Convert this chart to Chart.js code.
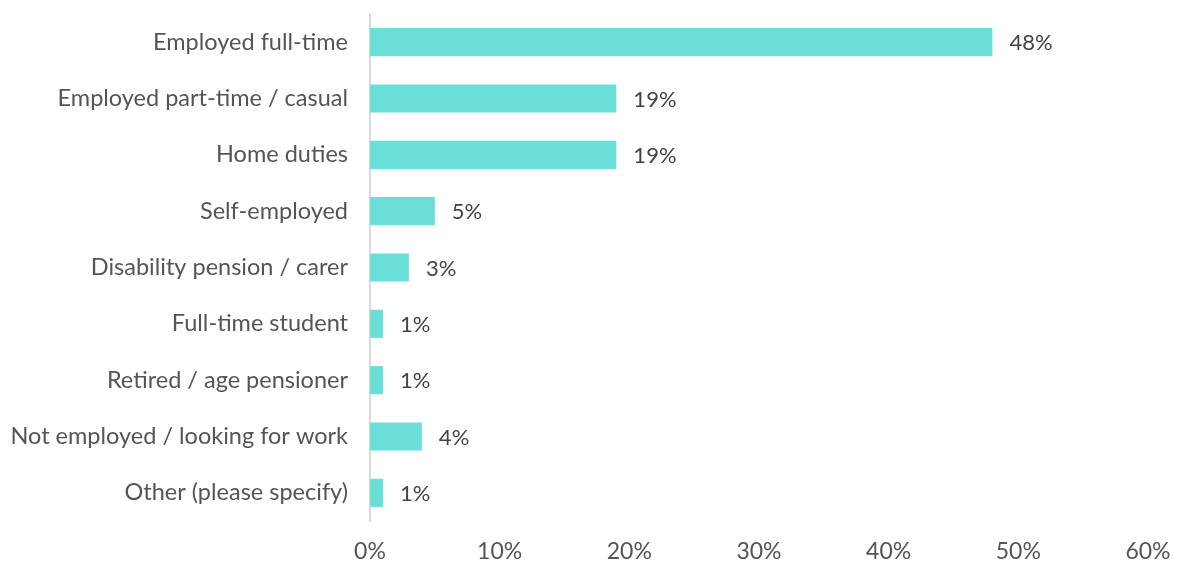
<!DOCTYPE html>
<html><head><meta charset="utf-8">
<script src="https://cdn.jsdelivr.net/npm/chart.js@4/dist/chart.umd.min.js"></script>
<style>
  html, body { margin: 0; padding: 0; background: #fff; }
  #wrap { width: 1180px; height: 563px; position: relative; }
</style>
</head><body>
<div id="wrap"><canvas id="chart"></canvas></div>
<script>
// Employment status of respondents (% of total)
const categories = [
  'Employed full-time',
  'Employed part-time / casual',
  'Home duties',
  'Self-employed',
  'Disability pension / carer',
  'Full-time student',
  'Retired / age pensioner',
  'Not employed / looking for work',
  'Other (please specify)'
];
const shares = [48, 19, 19, 5, 3, 1, 1, 4, 1];
const axisTicks = [0, 10, 20, 30, 40, 50, 60];

const FONT = 'Lato, "Open Sans", sans-serif';

// Writes each bar's percentage just past its end
const valueLabels = {
  id: 'valueLabels',
  afterDatasetsDraw(chart) {
    const { ctx } = chart;
    const meta = chart.getDatasetMeta(0);
    ctx.save();
    ctx.font = '22px ' + FONT;
    ctx.fillStyle = '#444444';
    ctx.textAlign = 'left';
    ctx.textBaseline = 'middle';
    meta.data.forEach((bar, i) => {
      ctx.fillText(Math.round(shares[i]) + '%', bar.x + 17, bar.y + 1);
    });
    ctx.restore();
  }
};

new Chart(document.getElementById('chart'), {
  type: 'bar',
  data: {
    labels: categories,
    datasets: [{
      data: shares,
      backgroundColor: '#6adfd8',
      borderWidth: 0,
      categoryPercentage: 1,
      barPercentage: 0.5
    }]
  },
  options: {
    indexAxis: 'y',
    responsive: true,
    maintainAspectRatio: false,
    animation: false,
    layout: { padding: { top: 14, right: 32, bottom: 0, left: 0 } },
    plugins: { legend: { display: false }, tooltip: { enabled: false } },
    scales: {
      x: {
        min: axisTicks[0],
        max: axisTicks[axisTicks.length - 1],
        afterBuildTicks(scale) { scale.ticks = axisTicks.map(v => ({ value: v })); },
        afterFit(scale) {
          scale.height = 42;
          scale.paddingLeft = 0;
          scale.paddingRight = 0;
        },
        grid: { display: false, drawTicks: false },
        border: { display: false },
        ticks: {
          padding: 17,
          color: '#555555',
          font: { family: FONT, size: 23 },
          callback: v => v + '%'
        }
      },
      y: {
        afterFit(scale) {
          scale.width = 370;
          scale.paddingTop = 0;
          scale.paddingBottom = 0;
        },
        grid: { display: false, drawTicks: false },
        border: { display: true, color: '#d9d9d9', width: 2 },
        ticks: {
          padding: 22,
          color: '#555555',
          font: { family: FONT, size: 23.5 }
        }
      }
    }
  },
  plugins: [valueLabels]
});
</script>
</body></html>
